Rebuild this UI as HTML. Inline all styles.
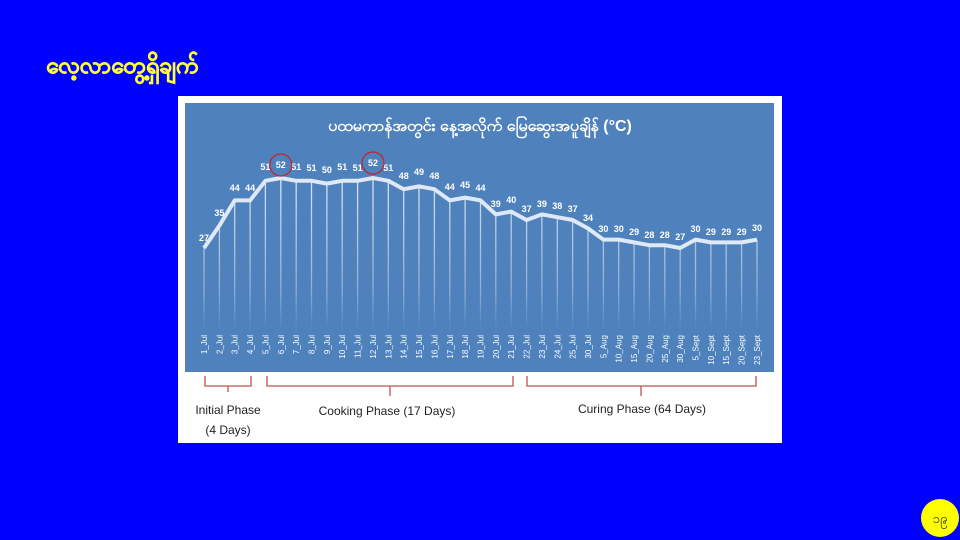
<!DOCTYPE html>
<html><head><meta charset="utf-8"><style>
html,body{margin:0;padding:0;background:#0000ff;}
body{width:960px;height:540px;overflow:hidden;position:relative;font-family:"Liberation Sans",sans-serif;}
</style></head><body>
<svg width="960" height="540" viewBox="0 0 960 540" xmlns="http://www.w3.org/2000/svg" style="position:absolute;left:0;top:0">
<defs>
<linearGradient id="fade" x1="0" y1="0" x2="0" y2="1">
<stop offset="0" stop-color="#fff" stop-opacity="0.8"/>
<stop offset="0.75" stop-color="#fff" stop-opacity="0.35"/>
<stop offset="1" stop-color="#fff" stop-opacity="0"/>
</linearGradient>
</defs>
<rect width="960" height="540" fill="#0000ff"/>
<text x="46" y="73" font-size="23" font-weight="bold" fill="#ffff33" stroke="#ffff33" stroke-width="0.6" font-family="'Liberation Sans',sans-serif">လေ့လာတွေ့ရှိချက်</text>
<rect x="178" y="96" width="604" height="347" fill="#ffffff"/>
<rect x="185" y="103" width="589" height="269" fill="#4f81bd"/>
<text x="480" y="131" font-size="16" font-weight="bold" fill="#fff" text-anchor="middle">ပထမကာန်အတွင်း နေ့အလိုက် မြေဆွေးအပူချိန် (°C)</text>
<g stroke="url(#fade)" stroke-width="1.3" fill="none">
<path d="M204 248V330M219.4 225.6V330M234.7 200.4V330M250.1 200.4V330M265.4 180.8V330M280.8 178V330M296.2 180.8V330M311.5 180.8V330M326.9 183.6V330M342.2 180.8V330M357.6 180.8V330M373 178V330M388.3 180.8V330M403.7 189.2V330M419 186.4V330M434.4 189.2V330M449.8 200.4V330M465.1 197.6V330M480.5 200.4V330M495.8 214.4V330M511.2 211.6V330M526.6 220V330M541.9 214.4V330M557.3 217.2V330M572.6 220V330M588 228.4V330M603.4 239.6V330M618.7 239.6V330M634.1 242.4V330M649.4 245.2V330M664.8 245.2V330M680.2 248V330M695.5 239.6V330M710.9 242.4V330M726.2 242.4V330M741.6 242.4V330M757 239.6V330"/>
</g>
<polyline fill="none" stroke="#dfe8f5" stroke-width="4" stroke-linejoin="round" points="204,248 219.4,225.6 234.7,200.4 250.1,200.4 265.4,180.8 280.8,178 296.2,180.8 311.5,180.8 326.9,183.6 342.2,180.8 357.6,180.8 373,178 388.3,180.8 403.7,189.2 419,186.4 434.4,189.2 449.8,200.4 465.1,197.6 480.5,200.4 495.8,214.4 511.2,211.6 526.6,220 541.9,214.4 557.3,217.2 572.6,220 588,228.4 603.4,239.6 618.7,239.6 634.1,242.4 649.4,245.2 664.8,245.2 680.2,248 695.5,239.6 710.9,242.4 726.2,242.4 741.6,242.4 757,239.6"/>
<g font-size="9" font-weight="bold" fill="#fff" text-anchor="middle">
<text x="204" y="241">27</text><text x="219.4" y="216">35</text><text x="234.7" y="191">44</text><text x="250.1" y="191">44</text><text x="265.4" y="170">51</text><text x="280.8" y="168">52</text><text x="296.2" y="170">51</text><text x="311.5" y="171">51</text><text x="326.9" y="173">50</text><text x="342.2" y="170">51</text><text x="357.6" y="171">51</text><text x="373" y="166">52</text><text x="388.3" y="171">51</text><text x="403.7" y="179">48</text><text x="419" y="175">49</text><text x="434.4" y="179">48</text><text x="449.8" y="190">44</text><text x="465.1" y="188">45</text><text x="480.5" y="191">44</text><text x="495.8" y="207">39</text><text x="511.2" y="203">40</text><text x="526.6" y="212">37</text><text x="541.9" y="207">39</text><text x="557.3" y="209">38</text><text x="572.6" y="212">37</text><text x="588" y="221">34</text><text x="603.4" y="232">30</text><text x="618.7" y="232">30</text><text x="634.1" y="235">29</text><text x="649.4" y="238">28</text><text x="664.8" y="238">28</text><text x="680.2" y="240">27</text><text x="695.5" y="232">30</text><text x="710.9" y="235">29</text><text x="726.2" y="235">29</text><text x="741.6" y="235">29</text><text x="757" y="231">30</text>
</g>
<g fill="none" stroke="#c0272d" stroke-width="1.3">
<circle cx="280.8" cy="165" r="11"/><circle cx="373" cy="163" r="11"/>
</g>
<g font-size="8" fill="#fff" text-anchor="end">
<text transform="translate(207,335) rotate(-90)">1_Jul</text>
<text transform="translate(222.4,335) rotate(-90)">2_Jul</text>
<text transform="translate(237.7,335) rotate(-90)">3_Jul</text>
<text transform="translate(253.1,335) rotate(-90)">4_Jul</text>
<text transform="translate(268.4,335) rotate(-90)">5_Jul</text>
<text transform="translate(283.8,335) rotate(-90)">6_Jul</text>
<text transform="translate(299.2,335) rotate(-90)">7_Jul</text>
<text transform="translate(314.5,335) rotate(-90)">8_Jul</text>
<text transform="translate(329.9,335) rotate(-90)">9_Jul</text>
<text transform="translate(345.2,335) rotate(-90)">10_Jul</text>
<text transform="translate(360.6,335) rotate(-90)">11_Jul</text>
<text transform="translate(376,335) rotate(-90)">12_Jul</text>
<text transform="translate(391.3,335) rotate(-90)">13_Jul</text>
<text transform="translate(406.7,335) rotate(-90)">14_Jul</text>
<text transform="translate(422,335) rotate(-90)">15_Jul</text>
<text transform="translate(437.4,335) rotate(-90)">16_Jul</text>
<text transform="translate(452.8,335) rotate(-90)">17_Jul</text>
<text transform="translate(468.1,335) rotate(-90)">18_Jul</text>
<text transform="translate(483.5,335) rotate(-90)">19_Jul</text>
<text transform="translate(498.8,335) rotate(-90)">20_Jul</text>
<text transform="translate(514.2,335) rotate(-90)">21_Jul</text>
<text transform="translate(529.6,335) rotate(-90)">22_Jul</text>
<text transform="translate(544.9,335) rotate(-90)">23_Jul</text>
<text transform="translate(560.3,335) rotate(-90)">24_Jul</text>
<text transform="translate(575.6,335) rotate(-90)">25_Jul</text>
<text transform="translate(591,335) rotate(-90)">30_Jul</text>
<text transform="translate(606.4,335) rotate(-90)">5_Aug</text>
<text transform="translate(621.7,335) rotate(-90)">10_Aug</text>
<text transform="translate(637.1,335) rotate(-90)">15_Aug</text>
<text transform="translate(652.4,335) rotate(-90)">20_Aug</text>
<text transform="translate(667.8,335) rotate(-90)">25_Aug</text>
<text transform="translate(683.2,335) rotate(-90)">30_Aug</text>
<text transform="translate(698.5,335) rotate(-90)">5_Sept</text>
<text transform="translate(713.9,335) rotate(-90)">10_Sept</text>
<text transform="translate(729.2,335) rotate(-90)">15_Sept</text>
<text transform="translate(744.6,335) rotate(-90)">20_Sept</text>
<text transform="translate(760,335) rotate(-90)">23_Sept</text>
</g>
<g fill="none" stroke="#c0504d" stroke-width="1.3">
<path d="M205 376V386H251V376M228 386V392"/>
<path d="M267 376V386H513V376M390 386V396"/>
<path d="M527 376V386H756V376M641 386V396"/>
</g>
<g font-size="12" fill="#222" text-anchor="middle">
<text x="228" y="414">Initial Phase</text>
<text x="228" y="434">(4 Days)</text>
<text x="387" y="415">Cooking Phase (17 Days)</text>
<text x="642" y="413">Curing Phase (64 Days)</text>
</g>
<circle cx="940" cy="518" r="19" fill="#ffff00"/>
<text x="940" y="523" font-size="13" fill="#222" text-anchor="middle">၁၉</text>
</svg>
</body></html>
